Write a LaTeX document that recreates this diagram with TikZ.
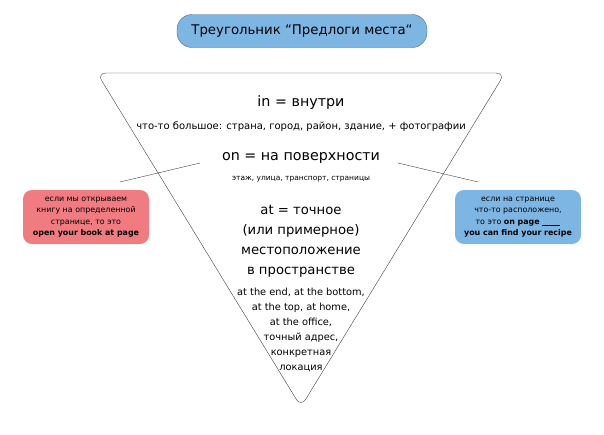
\documentclass[tikz,border=0pt]{standalone}
\usepackage{fontspec}
\setmainfont{DejaVu Sans}
\definecolor{skyblue}{HTML}{7DB6E3}
\definecolor{titleedge}{HTML}{4A6A8A}
\definecolor{rosered}{HTML}{F07C82}
\begin{document}
\begin{tikzpicture}[x=1pt,y=-1pt]
        \tikzstyle{title}=[draw=titleedge,fill=skyblue,rounded corners=15pt,minimum width=250pt,minimum height=33pt,font=\fontsize{13.3}{15}\selectfont]
        \tikzstyle{heading}=[align=center,font=\fontsize{13.2}{20}\selectfont]
        \tikzstyle{note}=[align=center,font=\fontsize{7.5}{10}\selectfont]
        \tikzstyle{aside}=[rounded corners=9pt,minimum width=126pt,minimum height=54pt,align=center,font=\fontsize{7.9}{11.5}\selectfont]
        \tikzstyle{edge}=[draw=black!75,thin]
        \useasboundingbox (0,0) rectangle (604,434);
        % title
        \node [title] (title) at (302,31) {Треугольник “Предлоги места“};
        % triangle
        \coordinate (tl) at (97,73);
        \coordinate (tr) at (505,73);
        \coordinate (ap) at (301,407);
        \draw [edge,rounded corners=9pt] (tl) -- (tr) -- (ap) -- cycle;
        % prepositions
        \node [heading,font=\fontsize{14.3}{20}\selectfont] (in) at (301,103) {in = внутри};
        \node [note,font=\fontsize{10}{12}\selectfont] (indesc) at (301,127) {что-то большое: страна, город, район, здание, + фотографии};
        \node [heading,font=\fontsize{14.3}{20}\selectfont] (on) at (301,158) {on = на поверхности};
        \node [note] (ondesc) at (301,179) {этаж, улица, транспорт, страницы};
        \node [heading] (at) at (301,241) {at = точное\\(или примерное)\\местоположение\\в пространстве};
        \node [note,font=\fontsize{9.8}{15}\selectfont] (atdesc) at (301,330) {at the end, at the bottom,\\at the top, at home,\\at the office,\\точный адрес,\\конкретная\\локация};
        % side notes
        \node [aside,fill=rosered] (leftnote) at (86,217) {если мы открываем\\книгу на определенной\\странице, то это\\\textbf{open your book at page}};
        \node [aside,fill=skyblue] (rightnote) at (518,217) {если на странице\\что-то расположено,\\то это \textbf{on page \underline{\hspace{18pt}}}\\\textbf{you can find your recipe}};
        \coordinate (lfoot) at (120,182);
        \coordinate (lhead) at (200,163);
        \coordinate (rhead) at (398,163);
        \coordinate (rfoot) at (478,182);
        \path [edge] (lfoot) edge (lhead);
        \path [edge] (rhead) edge (rfoot);
\end{tikzpicture}
\end{document}
